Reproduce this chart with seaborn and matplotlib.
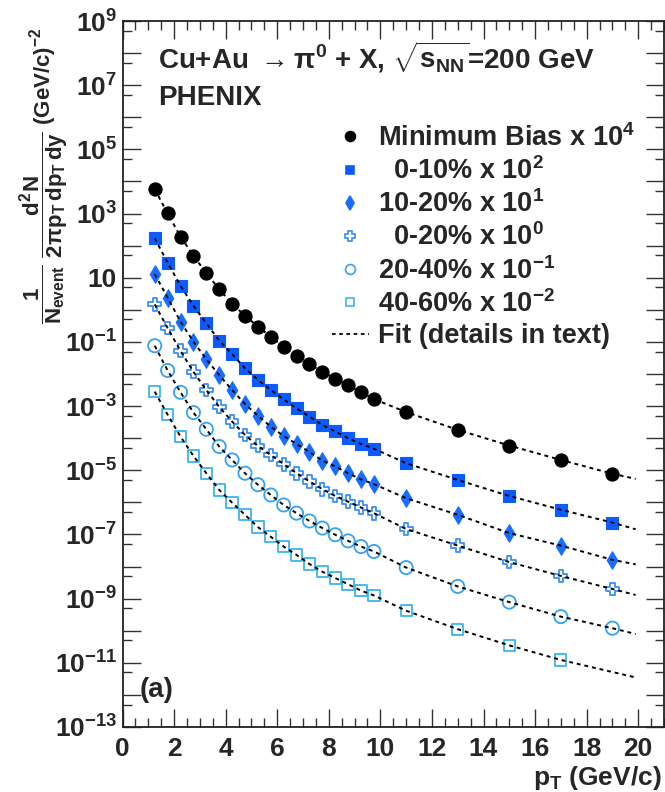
import numpy as np
import pandas as pd
import matplotlib
matplotlib.use("Agg")
import matplotlib.pyplot as plt
import seaborn as sns
from matplotlib.ticker import FixedLocator, FixedFormatter, MultipleLocator
from matplotlib.lines import Line2D

# ---------------- data ----------------
pt_low = [1.25, 1.75, 2.25, 2.75, 3.25, 3.75, 4.25, 4.75, 5.25, 5.75,
          6.25, 6.75, 7.25, 7.75, 8.25, 8.75, 9.25, 9.75]
pt_high = [11, 13, 15, 17, 19]
pt_high_4060 = [11, 13, 15, 17]
fit_end_pt = 19.9

minbias = [5.7e3, 1.02e3, 1.9e2, 49, 13.8, 4.4, 1.53, 0.66, 0.30, 0.146,
           0.071, 0.037, 0.0204, 0.0117, 0.0071, 0.0044, 0.0027, 0.00166,
           6.5e-4, 1.82e-4, 5.9e-5, 2.1e-5, 7.8e-6]
c0_10 = [170, 29.5, 5.6, 1.35, 0.38, 0.110, 0.042, 0.0151, 0.0066, 0.00316,
         0.00162, 8.5e-4, 4.7e-4, 2.57e-4, 1.62e-4, 1.0e-4, 6.6e-5, 4.7e-5,
         1.66e-5, 5.0e-6, 1.58e-6, 5.9e-7, 2.34e-7]
c10_20 = [12.9, 2.4, 0.427, 0.102, 0.0288, 0.0093, 0.00316, 0.00117, 5.0e-4,
          2.29e-4, 1.17e-4, 6.6e-5, 3.7e-5, 2.0e-5, 1.32e-5, 8.1e-6, 5.2e-6,
          3.7e-6, 1.35e-6, 4.1e-7, 1.10e-7, 4.5e-8, 1.62e-8]
c0_20 = [1.48, 0.27, 0.0525, 0.0117, 0.00316, 9.5e-4, 3.3e-4, 1.26e-4,
         5.75e-5, 3.0e-5, 1.55e-5, 8.1e-6, 4.5e-6, 2.57e-6, 1.58e-6, 1.05e-6,
         6.9e-7, 4.6e-7, 1.48e-7, 4.5e-8, 1.38e-8, 5.1e-9, 2.0e-9]
c20_40 = [0.076, 0.0129, 0.00269, 6.3e-4, 1.9e-4, 5.5e-5, 2.1e-5, 8.1e-6,
          3.55e-6, 1.7e-6, 8.3e-7, 4.6e-7, 2.63e-7, 1.58e-7, 9.8e-8, 6.3e-8,
          4.2e-8, 2.95e-8, 9.3e-9, 2.4e-9, 7.8e-10, 2.75e-10, 1.2e-10]
c40_60 = [0.00282, 5.4e-4, 1.12e-4, 2.8e-5, 8.1e-6, 2.45e-6, 9.8e-7, 4.1e-7,
          1.7e-7, 8.5e-8, 4.2e-8, 2.3e-8, 1.2e-8, 6.9e-9, 4.4e-9, 2.8e-9,
          1.78e-9, 1.26e-9, 4.2e-10, 1.12e-10, 3.5e-11, 1.23e-11]
# value of each fit curve at its right end (pT ~ 19.9)
fit_end = [5.4e-6, 1.45e-7, 1.17e-8, 1.3e-9, 7.9e-11, 3.5e-12]

labels = ["Minimum Bias x 10$^{4}$", "  0-10% x 10$^{2}$", "10-20% x 10$^{1}$",
          "  0-20% x 10$^{0}$", "20-40% x 10$^{-1}$", "40-60% x 10$^{-2}$"]
fit_label = "Fit (details in text)"
title_line1 = r"Cu+Au $\rightarrow\pi^{0}$ + X, $\sqrt{s_{NN}}$=200 GeV"
title_line2 = "PHENIX"
panel_tag = "(a)"
xlabel = r"p$_{T}$ (GeV/c)"
ylabel = r"$\dfrac{1}{N_{event}}\ \dfrac{d^{2}N}{2\pi p_{T}\,dp_{T}\,dy}$ (GeV/c)$^{-2}$"

# ---------------- styles ----------------
markers = ["o", "s", "d", "P", "o", "s"]
colors = ["#000000", "#0d5bff", "#166dff", "#3a8ff2", "#35a2f0", "#3cb4ee"]
filled = [True, True, True, False, False, False]
sizes = [90, 64, 80, 85, 90, 66]

sns.set_style("ticks")
plt.rcParams["font.family"] = ["Liberation Sans", "DejaVu Sans"]
plt.rcParams["font.weight"] = "bold"
plt.rcParams["mathtext.fontset"] = "custom"
plt.rcParams["mathtext.rm"] = "Liberation Sans:bold"
plt.rcParams["mathtext.it"] = "Liberation Sans:bold"
plt.rcParams["mathtext.bf"] = "Liberation Sans:bold"
plt.rcParams["mathtext.sf"] = "Liberation Sans:bold"
plt.rcParams["mathtext.default"] = "rm"

W, H = 665, 792
fig = plt.figure(figsize=(W / 100, H / 100), dpi=100)
ax_left, ax_right, ax_top, ax_bot = 122.5, 664, 21, 727
ax = fig.add_axes([ax_left / W, 1 - ax_bot / H, (ax_right - ax_left) / W,
                   (ax_bot - ax_top) / H])
ax.set_yscale("log")

series = [minbias, c0_10, c10_20, c0_20, c20_40, c40_60]
handles = []
for i, vals in enumerate(series):
    pts = pt_low + (pt_high_4060 if i == 5 else pt_high)
    df = pd.DataFrame({"pt": pts, "y": vals})
    fdf = pd.DataFrame({"pt": pts + [fit_end_pt], "y": vals + [fit_end[i]]})
    if filled[i]:
        sns.scatterplot(data=df, x="pt", y="y", ax=ax, marker=markers[i], s=sizes[i],
                        color=colors[i], edgecolor=colors[i], linewidth=0.8, zorder=3)
    else:
        sns.scatterplot(data=df, x="pt", y="y", ax=ax, marker=markers[i], s=sizes[i],
                        color=colors[i], facecolor="none", edgecolor=colors[i],
                        linewidth=1.3, zorder=3)
    sns.lineplot(data=fdf, x="pt", y="y", ax=ax, color="black", sort=False,
                 errorbar=None, linestyle=(0, (2, 2)), linewidth=1.4, zorder=4)
    handles.append(Line2D([], [], linestyle="none", marker=markers[i],
                          markersize=np.sqrt(sizes[i]) * 0.75, color=colors[i],
                          markerfacecolor=colors[i] if filled[i] else "none",
                          markeredgecolor=colors[i], markeredgewidth=1.2))
handles.append(Line2D([], [], color="black", linestyle=(0, (2, 2)), linewidth=1.3))

ax.set_xlim(0, 21)
ax.set_ylim(1e-13, 1e9)
ax.set_xlabel("")
ax.set_ylabel("")

exps = list(range(-13, 10))
ax.yaxis.set_major_locator(FixedLocator([10.0 ** e for e in exps]))
ax.yaxis.set_minor_locator(FixedLocator([5 * 10.0 ** (e - 1) for e in exps]))
ylabels = []
for e in exps:
    if e % 2 == 0:
        ylabels.append("")
    elif e == 1:
        ylabels.append("10")
    else:
        ylabels.append(r"$10^{%d}$" % e)
ax.yaxis.set_major_formatter(FixedFormatter(ylabels))
ax.xaxis.set_major_locator(FixedLocator(list(range(0, 21, 2))))
ax.xaxis.set_minor_locator(MultipleLocator(0.5))
ax.xaxis.set_major_formatter(FixedFormatter([str(v) for v in range(0, 21, 2)]))

ax.tick_params(which="both", direction="in", top=True, right=True, width=1.0,
               color="#333333")
ax.tick_params(which="major", length=13, labelsize=19)
ax.tick_params(which="minor", length=6.5)
ax.tick_params(axis="y", which="major", pad=4)
ax.tick_params(axis="x", which="major", pad=7)
for sp in ax.spines.values():
    sp.set_linewidth(1.3)
    sp.set_color("#222222")
for lab in ax.get_xticklabels() + ax.get_yticklabels():
    lab.set_fontweight("bold")

leg = ax.legend(handles, labels + [fit_label], loc="upper left",
                bbox_to_anchor=(332 / W, 1 - 124 / H), bbox_transform=fig.transFigure,
                frameon=False, borderpad=0, borderaxespad=0, handlelength=1.35,
                handletextpad=0.35, labelspacing=0.2,
                prop={"size": 19.5, "weight": "bold"})

fig.text(158 / W, 1 - 57 / H, title_line1, fontsize=20, fontweight="bold", va="center")
fig.text(158 / W, 1 - 98 / H, title_line2, fontsize=20, fontweight="bold", va="center")
fig.text(140 / W, 1 - 690 / H, panel_tag, fontsize=20, fontweight="bold", va="center")
fig.text(662 / W, 1 - 778 / H, xlabel, fontsize=19, fontweight="bold",
         ha="right", va="center")
fig.text(44 / W, 1 - 28 / H, ylabel, fontsize=16, fontweight="bold",
         rotation=90, ha="center", va="top")

fig.savefig("out.png", dpi=100)
